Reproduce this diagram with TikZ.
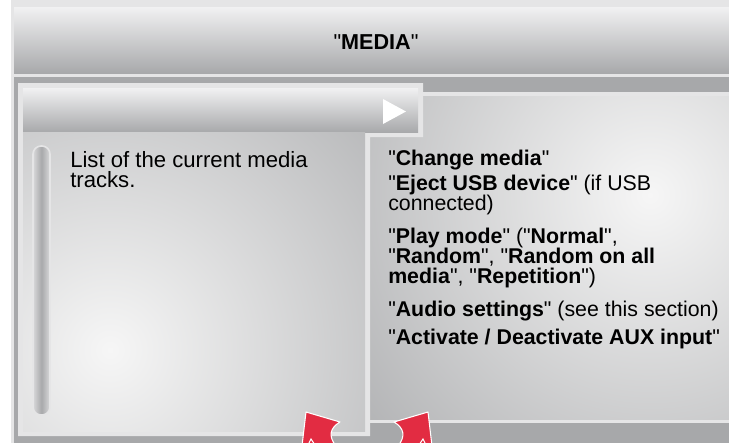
\documentclass[tikz,border=0pt]{standalone}
\usepackage{fontspec}
\setmainfont{Liberation Sans}[Ligatures=TeXOff]
\usetikzlibrary{positioning}
\definecolor{cadreclair}{RGB}{229,229,230}
\definecolor{fondgris}{RGB}{167,168,170}
\definecolor{grisclair}{RGB}{241,241,242}
\definecolor{grismoyen}{RGB}{168,169,171}
\definecolor{grisglow}{RGB}{246,246,246}
\definecolor{rougefleche}{RGB}{226,44,66}

\begin{document}
\begin{tikzpicture}[x=0.75pt,y=-0.75pt,
  texte/.style={font=\fontsize{16}{15}\selectfont,inner sep=0pt,anchor=north west,align=left},
  fleche/.style={fill=rougefleche,draw=white,line width=0.8pt,line join=round}]
\useasboundingbox (0,0) rectangle (729,443);
\fill[white] (0,0) rectangle (729,443);
\fill[cadreclair] (11,0) rectangle (729,443);
% bandeau du haut
\shade[top color=grisclair,bottom color=grismoyen] (14,7) rectangle (729,73);
\node[font=\fontsize{16.2}{15}\selectfont] (titre) at (376,42) {"\textbf{MEDIA}"};
\fill[fondgris] (14,77) rectangle (729,443);
% panneau droit
\fill[cadreclair] (365,92) rectangle (729,423);
\begin{scope}
  \clip (370,96) rectangle (729,419);
  \fill[grismoyen] (370,96) rectangle (729,419);
  \shade[inner color=grisglow,outer color=grismoyen] (650,195) circle[radius=320pt];
\end{scope}
% panneau gauche
\fill[cadreclair] (18,83) -- (423,83) -- (423,137) -- (370,137) -- (370,436) -- (18,436) -- cycle;
\shade[top color=grisclair,bottom color=grismoyen] (23,88) rectangle (418,132);
\begin{scope}
  \clip (23,132) rectangle (365,431);
  \fill[grismoyen] (23,132) rectangle (365,431);
  \shade[inner color=grisglow,outer color=grismoyen] (110,350) circle[radius=330pt];
\end{scope}
\fill[white] (383,99) -- (406,111.5) -- (383,124) -- cycle;
% barre de defilement
\shade[left color=cadreclair!80!grismoyen,right color=cadreclair!80!grismoyen,middle color=grismoyen,
  draw=cadreclair,line width=1.2pt,rounded corners=6pt] (33,146) rectangle (50,415);
% textes
\node[texte,font=\fontsize{16.6}{15}\selectfont] (liste) at (70,151) {List of the current media\\tracks.};
\node[texte] (changer) at (388,150) {"\textbf{Change media}"};
\node[texte] (ejecter) at (388,175) {"\textbf{Eject USB device}" (if USB\\connected)};
\node[texte] (lecture) at (388,228) {"\textbf{Play mode}" ("\textbf{Normal}",\\"\textbf{Random}", "\textbf{Random on all}\\\textbf{media}", "\textbf{Repetition}")};
\node[texte] (audio) at (388,300.5) {"\textbf{Audio settings}" (see this section)};
\node[texte] (aux) at (388,328.5) {"\textbf{Activate / Deactivate AUX input}"};
% fleches rouges
\draw[fleche] (306,412) -- (340,422) .. controls (330,428) and (328,436) .. (336,446) -- (302,446) -- cycle;
\draw[fleche] (428,412) -- (394,422) .. controls (404,428) and (406,436) .. (398,446) -- (432,446) -- cycle;
\draw[white,line width=0.8pt] (308,445) -- (311,439) -- (315,445);
\draw[white,line width=0.8pt] (426,445) -- (423,439) -- (419,445);
\end{tikzpicture}
\end{document}
